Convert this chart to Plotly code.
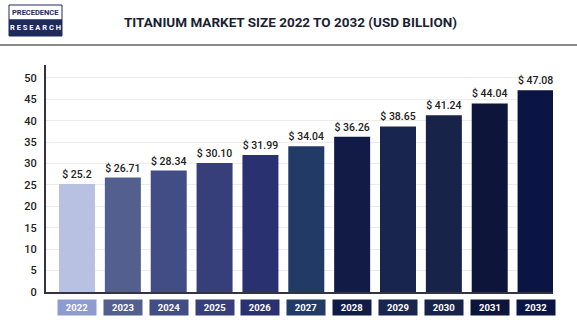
import plotly.graph_objects as go

years = ["2022", "2023", "2024", "2025", "2026", "2027", "2028", "2029", "2030", "2031", "2032"]
values = [25.2, 26.71, 28.34, 30.10, 31.99, 34.04, 36.26, 38.65, 41.24, 44.04, 47.08]
value_labels = ["$ 25.2", "$ 26.71", "$ 28.34", "$ 30.10", "$ 31.99", "$ 34.04",
                "$ 36.26", "$ 38.65", "$ 41.24", "$ 44.04", "$ 47.08"]
bar_colors = ["#b9c1e3", "#535f8e", "#434d85", "#373f7b", "#2a3170", "#213a66",
              "#111b45", "#18264f", "#172349", "#0e153a", "#0b1544"]
label_colors = ["#8e9bd1", "#535f8e", "#434d85", "#373f7b", "#2a3170", "#213a66",
                "#111b45", "#18264f", "#172349", "#0e153a", "#0b1544"]
y_ticks = [0, 5, 10, 15, 20, 25, 30, 35, 40, 45, 50]

FONT = "Roboto, Liberation Sans Narrow, sans-serif"

# plot area in pixels
L, R, T, B = 46, 553, 65, 292
W, H = R - L, B - T


def px(x):
    return (x - L) / W


def py(y):
    return (B - y) / H


fig = go.Figure()
fig.add_trace(go.Bar(
    x=list(range(len(years))), y=values,
    marker=dict(color=bar_colors, line=dict(width=0)),
    width=0.785,
    text=value_labels, textposition="outside",
    textfont=dict(family=FONT, size=10.5, color="#222222", weight=500),
    cliponaxis=False, hoverinfo="skip",
))

annotations = []
for i, (yr, c) in enumerate(zip(years, label_colors)):
    annotations.append(dict(
        x=i, y=py(299), xref="x", yref="paper", yanchor="top", xanchor="center",
        text=f"<b>{yr}</b>", showarrow=False,
        font=dict(family=FONT, size=9.5, color="white"),
        bgcolor=c, width=36, height=13, borderpad=1,
    ))

fig.update_layout(
    width=577, height=324,
    margin=dict(l=L, r=577 - R, t=T, b=324 - B),
    paper_bgcolor="white", plot_bgcolor="white",
    showlegend=False,
    xaxis=dict(range=[-0.676, 10.38], showticklabels=False, showgrid=False,
               zeroline=False, showline=True, linecolor="#333344", linewidth=2,
               fixedrange=True),
    yaxis=dict(range=[0, 53], tickvals=y_ticks, showgrid=True, gridcolor="#ececec",
               gridwidth=1, zeroline=False, showline=True, linecolor="#333344",
               linewidth=2, ticks="", ticklabelstandoff=5,
               tickfont=dict(family=FONT, size=11, color="#222222", weight=500),
               fixedrange=True),
    annotations=annotations,
)

# header title
fig.add_annotation(
    x=px(290), y=py(22), xref="paper", yref="paper", xanchor="center", yanchor="middle",
    text="<b>TITANIUM MARKET SIZE 2022 TO 2032 (USD BILLION)</b>", showarrow=False,
    font=dict(family=FONT, size=13.5, color="#1c1f33"),
)
# header separator line
fig.add_shape(type="line", xref="paper", yref="paper",
              x0=px(0), x1=px(577), y0=py(45), y1=py(45),
              line=dict(color="#8a8a8a", width=2))

# logo
lx0, lx1 = px(9), px(62)
ytop, ymid, ybot = py(5), py(20), py(36)
fig.add_shape(type="rect", xref="paper", yref="paper", x0=lx0, x1=lx1, y0=ymid, y1=ytop,
              fillcolor="white", line=dict(color="#1f2a5c", width=1))
fig.add_shape(type="rect", xref="paper", yref="paper", x0=lx0, x1=lx1, y0=ybot, y1=ymid,
              fillcolor="#1f2a5c", line=dict(color="#1f2a5c", width=1))
fig.add_annotation(x=(lx0 + lx1) / 2, y=(ymid + ytop) / 2, xref="paper", yref="paper",
                   xanchor="center", yanchor="middle",
                   text="<b>PRECEDENCE</b>", showarrow=False,
                   font=dict(family=FONT, size=7.5, color="#1f2a5c"))
fig.add_annotation(x=(lx0 + lx1) / 2, y=(ybot + ymid) / 2, xref="paper", yref="paper",
                   xanchor="center", yanchor="middle",
                   text="<b>R E S E A R C H</b>", showarrow=False,
                   font=dict(family=FONT, size=7.5, color="white"))

fig.write_html("out.html")
